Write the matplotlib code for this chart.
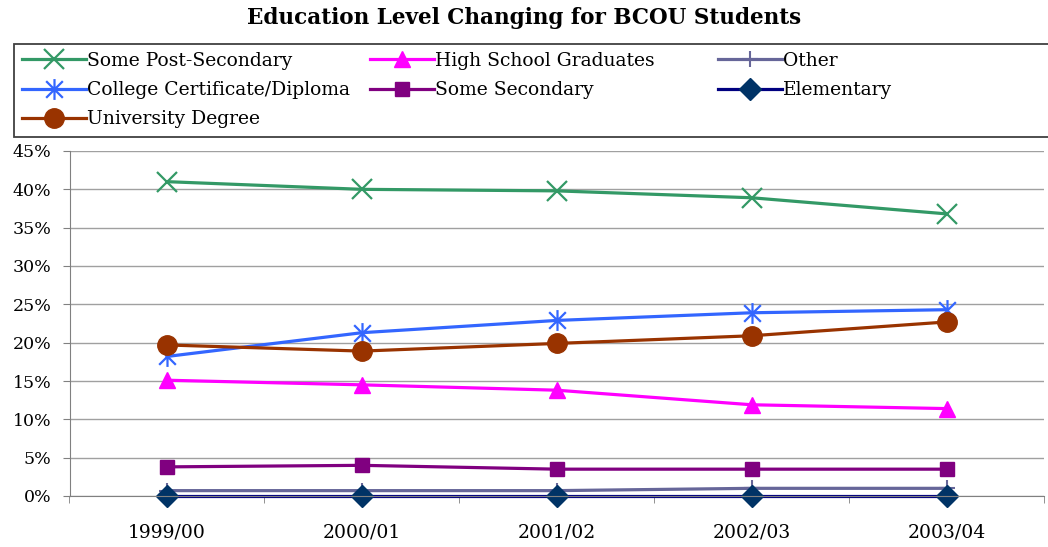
import matplotlib
matplotlib.use("Agg")
import matplotlib.pyplot as plt
from matplotlib.path import Path
from matplotlib.patches import Rectangle
from matplotlib.ticker import PercentFormatter, FixedLocator

years = ["1999/00", "2000/01", "2001/02", "2002/03", "2003/04"]
some_post_secondary = [41.0, 40.0, 39.8, 38.9, 36.8]
high_school = [15.1, 14.5, 13.8, 11.9, 11.4]
other = [0.7, 0.7, 0.7, 1.0, 1.0]
college = [18.2, 21.3, 22.9, 23.9, 24.3]
some_secondary = [3.8, 4.0, 3.5, 3.5, 3.5]
elementary = [0.0, 0.0, 0.0, 0.0, 0.0]
university = [19.7, 18.9, 19.9, 20.9, 22.7]

serif = ["DejaVu Serif"]
plt.rcParams["font.family"] = serif

W, H = 1048, 547
fig = plt.figure(figsize=(W / 100, H / 100), dpi=100)
ax = fig.add_axes([69.5 / W, 1 - 496 / H, (1044 - 69.5) / W, (496 - 151) / H])

x = list(range(len(years)))

asterisk = Path([(0, -1), (0, 1), (-0.8, -0.8), (0.8, 0.8), (-0.8, 0.8), (0.8, -0.8)],
                [Path.MOVETO, Path.LINETO, Path.MOVETO, Path.LINETO, Path.MOVETO, Path.LINETO])

lw = 2.3
h_sps, = ax.plot(x, some_post_secondary, color="#339966", lw=lw, marker="x", ms=15, mew=1.6,
                 label="Some Post-Secondary")
h_hs, = ax.plot(x, high_school, color="#FF00FF", lw=lw, marker="^", ms=12,
                label="High School Graduates")
h_oth, = ax.plot(x, other, color="#666699", lw=lw, marker="+", ms=12, mew=1.5,
                 label="Other")
h_col, = ax.plot(x, college, color="#3366FF", lw=lw, marker=asterisk, ms=15, mew=1.6,
                 label="College Certificate/Diploma")
h_ss, = ax.plot(x, some_secondary, color="#800080", lw=lw, marker="s", ms=10,
                label="Some Secondary")
h_el, = ax.plot(x, elementary, color="#000080", lw=lw, marker="D", ms=11,
                mfc="#003366", mec="#003366", label="Elementary")
h_uni, = ax.plot(x, university, color="#993300", lw=lw, marker="o", ms=14,
                 label="University Degree")
for h in (h_sps, h_hs, h_oth, h_col, h_ss, h_el, h_uni):
    h.set_clip_on(False)

ax.set_xlim(-0.5, len(years) - 0.5)
ax.set_ylim(0, 45)
ax.set_yticks(range(0, 50, 5))
ax.yaxis.set_major_formatter(PercentFormatter(decimals=0))
ax.set_xticks(x)
ax.set_xticklabels(years)
ax.xaxis.set_minor_locator(FixedLocator([i - 0.5 for i in range(len(years) + 1)]))
ax.tick_params(axis="x", which="major", length=0, pad=20, labelsize=13.5)
ax.tick_params(axis="x", which="minor", length=5, color="#808080", direction="out")
ax.tick_params(axis="y", length=5, color="#808080", pad=8, labelsize=12.5)

ax.grid(axis="y", color="#a0a0a0", lw=1)
ax.set_axisbelow(True)
for s in ["top", "right"]:
    ax.spines[s].set_visible(False)
ax.spines["left"].set_color("#808080")
ax.spines["bottom"].set_color("#808080")

fig.text(0.5, 1 - 18 / H, "Education Level Changing for BCOU Students", ha="center", va="center",
         fontsize=15.5, fontweight="bold")

# legend frame
fig.patches.append(Rectangle((14 / W, 1 - 137 / H), (W + 10 - 14) / W, 93 / H,
                             transform=fig.transFigure, facecolor="white",
                             edgecolor="#404040", lw=1.3, zorder=0))

cols = [([h_sps, h_col, h_uni], 22), ([h_hs, h_ss], 370), ([h_oth, h_el], 718)]
for hs, xpos in cols:
    lg = fig.legend(handles=hs, labels=[h.get_label() for h in hs], ncol=1,
                    loc="upper left", bbox_to_anchor=(xpos / W, 1 - 52 / H),
                    fontsize=13.5, frameon=False, handlelength=3.4, handletextpad=0.05,
                    labelspacing=0.6, borderaxespad=0, borderpad=0)

fig.savefig("out.png", dpi=100)
